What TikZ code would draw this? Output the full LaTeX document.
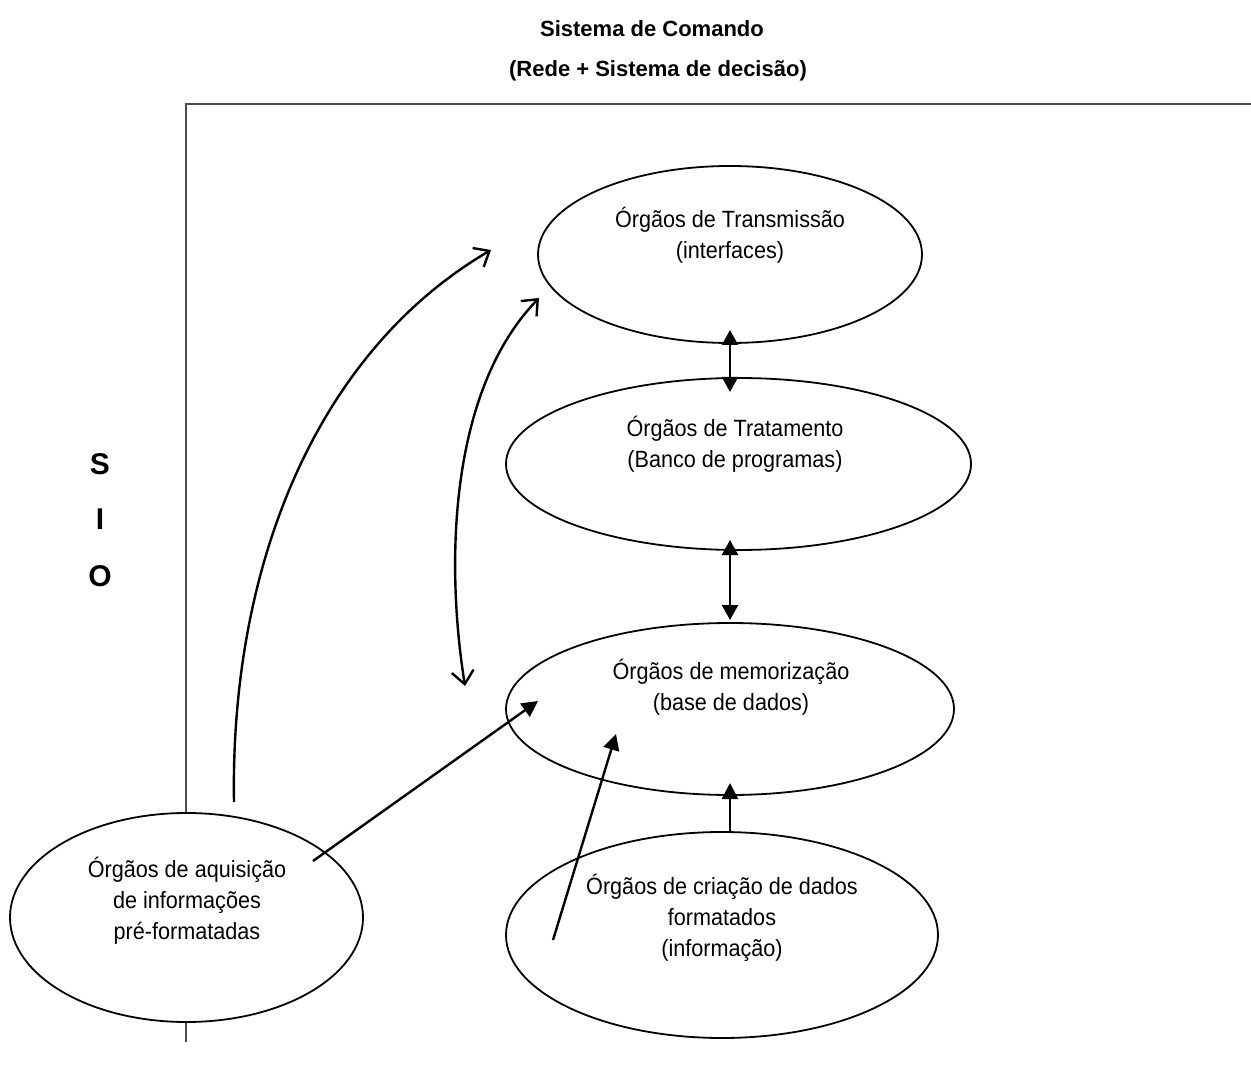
\documentclass[tikz,border=0pt]{standalone}
\usepackage{fontspec}
\setmainfont{Liberation Sans}
\newfontfamily\narrowf{Liberation Sans}[FakeStretch=0.92]
\usetikzlibrary{shapes.geometric,arrows.meta}
\tikzset{
  ell/.style={ellipse, draw, fill=white, line width=1.8pt, inner sep=0pt},
  txt/.style={font=\narrowf\fontsize{23.5}{31}\selectfont, align=center, inner sep=0pt},
  ttl/.style={font=\bfseries\fontsize{22}{26}\selectfont, inner sep=0pt, anchor=base},
  sio/.style={font=\bfseries\fontsize{30}{34}\selectfont, inner sep=0pt},
  frameline/.style={draw=black!70, line width=1.2pt},
  openarr/.style={line width=2.4pt, -{Straight Barb[length=13pt,width=22pt]}},
  openboth/.style={line width=2.4pt, {Straight Barb[length=13pt,width=22pt]}-{Straight Barb[length=13pt,width=22pt]}},
  solidarr/.style={line width=2.4pt, -{Triangle[length=16pt,width=16pt]}},
  solidboth/.style={line width=2.4pt, {Triangle[length=15pt,width=16pt]}-{Triangle[length=15pt,width=16pt]}}
}
\begin{document}
\begin{tikzpicture}[x=1pt,y=-1pt]
\useasboundingbox (0,0) rectangle (1251,1067);
% titles
\node[ttl] (t1) at (652,37) {Sistema de Comando};
\node[ttl] (t2) at (658,77) {(Rede + Sistema de decisão)};
% frame
\coordinate (fb) at (186,1042);
\coordinate (fc) at (186,104);
\coordinate (fr) at (1251,104);
\draw[frameline] (fb) -- (fc) -- (fr);
% SIO
\node[sio] (s) at (100,464) {S};
\node[sio] (i) at (100,519) {I};
\node[sio] (o) at (100,576) {O};
% ellipses
\node[ell, minimum width=384pt, minimum height=177pt] (e1) at (730,254.5) {};
\node[ell, minimum width=465pt, minimum height=172pt] (e2) at (738.5,464) {};
\node[ell, minimum width=448pt, minimum height=172pt] (e3) at (730,709) {};
\node[ell, minimum width=432pt, minimum height=206pt] (e4) at (722,935) {};
\node[ell, minimum width=353pt, minimum height=209pt] (e5) at (186.5,917.5) {};
% texts
\node[txt] (x1) at (730,235) {Órgãos de Transmissão\\(interfaces)};
\node[txt] (x2) at (735,444) {Órgãos de Tratamento\\(Banco de programas)};
\node[txt] (x3) at (731,687) {Órgãos de memorização\\(base de dados)};
\node[txt] (x4) at (722,918) {Órgãos de criação de dados\\formatados\\(informação)};
\node[txt] (x5) at (187,901) {Órgãos de aquisição\\de informações\\pré-formatadas};
% connector end points
\coordinate (a1s) at (234,802);
\coordinate (a1e) at (491,250);
\coordinate (a2s) at (465,686);
\coordinate (a2e) at (539,298);
\coordinate (a3s) at (313,861);
\coordinate (a3e) at (538,701);
\coordinate (a4s) at (553,940);
\coordinate (a4e) at (616,734);
\coordinate (a5s) at (730,832);
\coordinate (a5e) at (730,783);
\coordinate (a6s) at (730,330);
\coordinate (a6e) at (730,392);
\coordinate (a7s) at (730,540);
\coordinate (a7e) at (730,620);
% arrows
\draw[openarr] (a1s) .. controls (230,560) and (320,350) .. (a1e);
\draw[openboth] (a2s) .. controls (445,560) and (450,390) .. (a2e);
\draw[solidarr] (a3s) -- (a3e);
\draw[solidarr] (a4s) -- (a4e);
\draw[solidarr] (a5s) -- (a5e);
\draw[solidboth] (a6s) -- (a6e);
\draw[solidboth] (a7s) -- (a7e);
\end{tikzpicture}
\end{document}
